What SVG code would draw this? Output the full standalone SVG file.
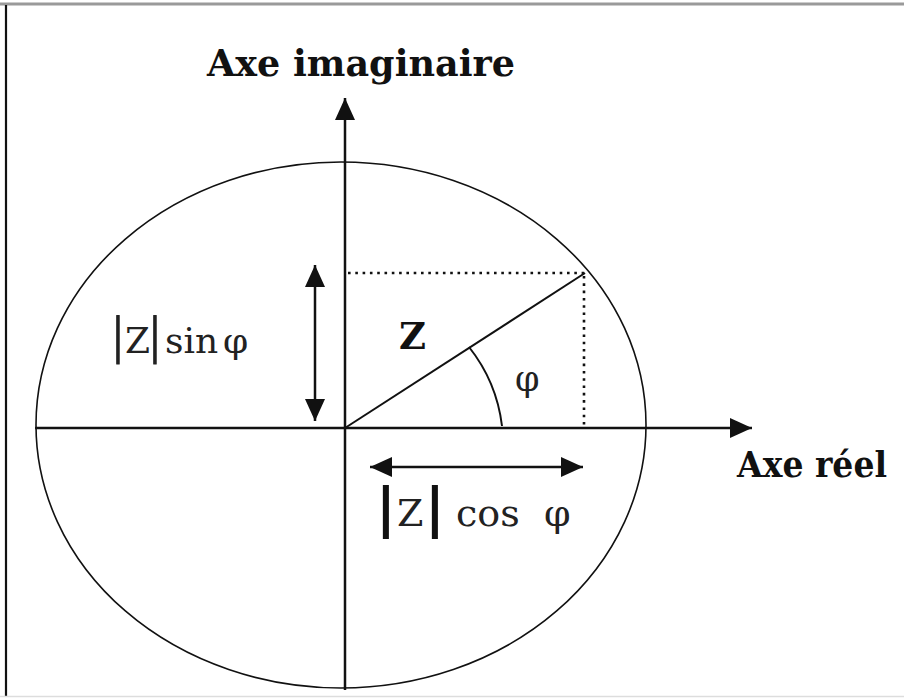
<svg xmlns="http://www.w3.org/2000/svg" width="904" height="698" viewBox="0 0 904 698">
  <defs>
    <style>
      .ln { stroke: #111; fill: none; }
      .ax { stroke-width: 2.5; }
      .dot { stroke: #111; stroke-width: 2.6; stroke-dasharray: 2.6 4.7; fill: none; }
      .ttl { font-family: "DejaVu Serif", "Liberation Serif", serif; font-weight: bold; fill: #111; }
      .lbl { font-family: "DejaVu Serif", "Liberation Serif", serif; fill: #222; }
      .bar { font-family: "Liberation Serif", serif; fill: #222; stroke: #222; stroke-width: 0.8; }
      .barb { font-family: "Liberation Serif", serif; font-weight: bold; fill: #111; stroke: #111; stroke-width: 2; }
    </style>
    <marker id="ah" markerUnits="userSpaceOnUse" markerWidth="24" markerHeight="22" refX="22" refY="10" orient="auto-start-reverse">
      <path d="M0,0 L22,10 L0,20 z" fill="#111"/>
    </marker>
  </defs>
  <rect width="904" height="698" fill="#fff"/>
  <!-- frame -->
  <line x1="0" y1="4" x2="904" y2="4" stroke="#9a9a9a" stroke-width="3"/>
  <line x1="6" y1="5" x2="6" y2="696" stroke="#111" stroke-width="2.2"/>
  <line x1="0" y1="696.5" x2="904" y2="696.5" stroke="#ddd" stroke-width="1.5"/>

  <g id="ellipse">
    <ellipse cx="341" cy="425" rx="305" ry="263" class="ln" stroke-width="1.6"/>
  </g>

  <g id="connectors">
    <line class="ln ax" x1="35" y1="428" x2="752" y2="428" marker-end="url(#ah)"/>
    <line class="ln ax" x1="345" y1="690" x2="345" y2="98" marker-end="url(#ah)"/>
    <line class="ln" stroke-width="2" x1="345" y1="428" x2="585" y2="273"/>
    <line class="dot" x1="348" y1="273" x2="585" y2="273"/>
    <line class="dot" x1="584" y1="276" x2="584" y2="428"/>
    <path class="ln" stroke-width="2" d="M502,426 A157,157 0 0 0 469,347"/>
    <line class="ln ax" x1="315" y1="265" x2="315" y2="421" marker-start="url(#ah)" marker-end="url(#ah)"/>
    <line class="ln ax" x1="370" y1="467" x2="583" y2="467" marker-start="url(#ah)" marker-end="url(#ah)"/>
  </g>

  <g id="axe-imaginaire">
    <text class="ttl" x="207" y="76" font-size="37" textLength="308" lengthAdjust="spacingAndGlyphs">Axe imaginaire</text>
  </g>
  <g id="axe-reel">
    <text class="ttl" x="737" y="477" font-size="35" textLength="150" lengthAdjust="spacingAndGlyphs">Axe réel</text>
  </g>
  <g id="z-label">
    <text class="ttl" x="399" y="349" font-size="37">Z</text>
  </g>
  <g id="phi-label">
    <text class="lbl" x="515" y="391" font-size="35">φ</text>
  </g>
  <g id="sin-label">
    <text class="lbl" y="353" font-size="36"><tspan class="bar" x="118" text-anchor="middle" font-size="52">|</tspan><tspan x="125" text-anchor="start">Z</tspan><tspan class="bar" x="155" text-anchor="middle" font-size="52">|</tspan><tspan x="165" text-anchor="start">sin</tspan><tspan x="223" text-anchor="start">φ</tspan></text>
  </g>
  <g id="cos-label">
    <text class="lbl" y="526" font-size="38"><tspan class="barb" x="386" text-anchor="middle" font-size="58">|</tspan><tspan x="397" text-anchor="start">Z</tspan><tspan class="barb" x="435" text-anchor="middle" font-size="58">|</tspan><tspan x="456" text-anchor="start">cos</tspan><tspan x="544" text-anchor="start">φ</tspan></text>
  </g>
</svg>
